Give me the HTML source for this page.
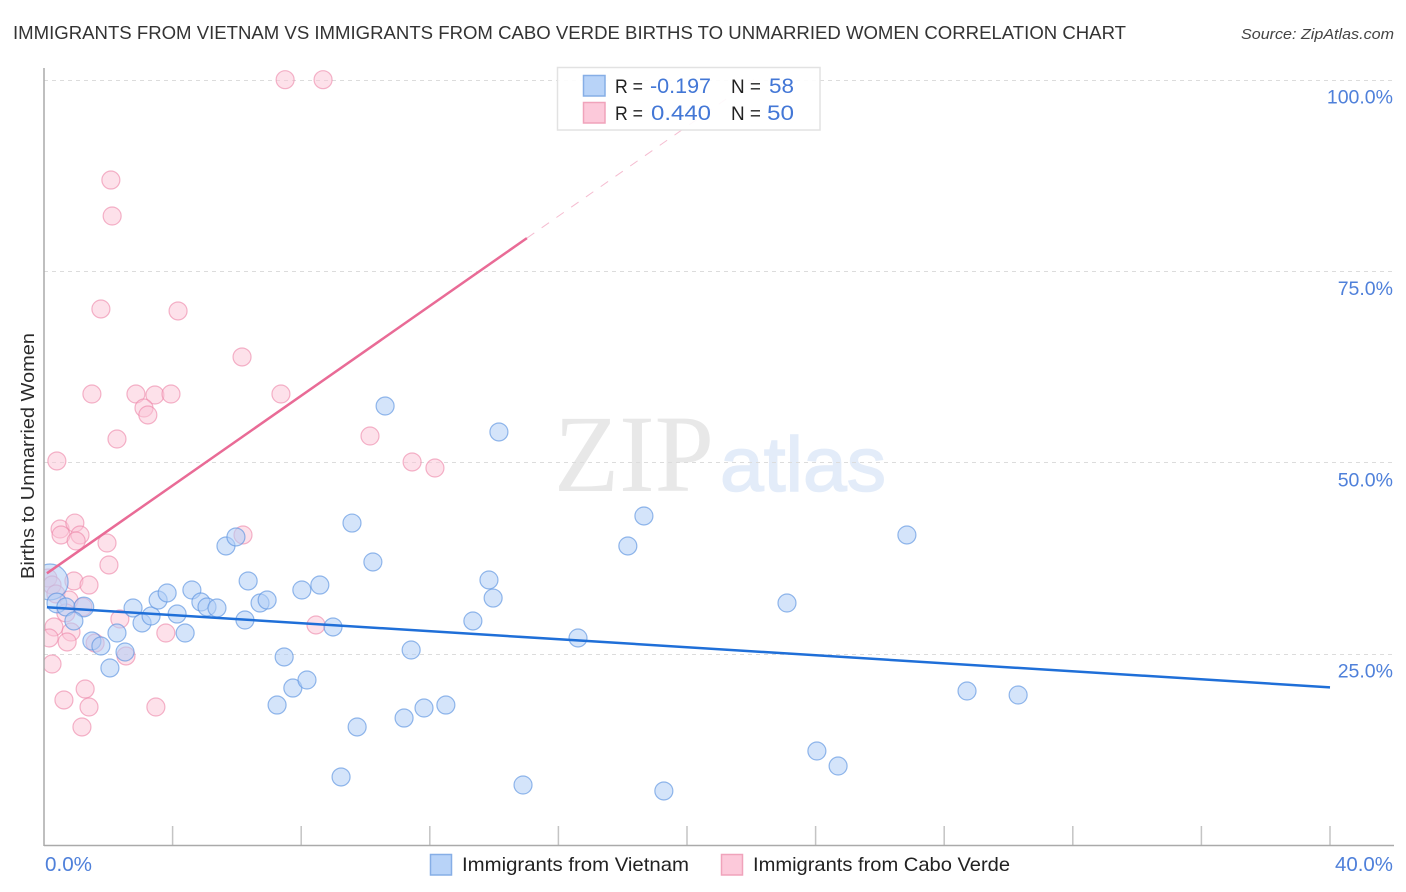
<!DOCTYPE html>
<html lang="en">
<head>
<meta charset="utf-8">
<title>Immigrants from Vietnam vs Immigrants from Cabo Verde Births to Unmarried Women Correlation Chart</title>
<style>
html,body{margin:0;padding:0;background:#fff;}
svg{display:block;font-family:"Liberation Sans",sans-serif;}
</style>
</head>
<body>
<svg id="chart" width="1406" height="892" viewBox="0 0 1406 892" xmlns="http://www.w3.org/2000/svg">
  <defs>
    <clipPath id="plot-clip"><rect x="44" y="60" width="1350" height="786"/></clipPath>
  </defs>
  <rect x="0" y="0" width="1406" height="892" fill="#ffffff"/>
  <text x="13" y="39" font-size="18.5" fill="#333333" textLength="1113" lengthAdjust="spacingAndGlyphs">IMMIGRANTS FROM VIETNAM VS IMMIGRANTS FROM CABO VERDE BIRTHS TO UNMARRIED WOMEN CORRELATION CHART</text>
  <text x="1241" y="39" font-size="15" font-style="italic" fill="#444" textLength="153" lengthAdjust="spacingAndGlyphs">Source: ZipAtlas.com</text>
  <text x="554" y="491" font-family="'Liberation Serif',serif" font-size="110" fill="#e8e8e8" textLength="160" lengthAdjust="spacingAndGlyphs">ZIP</text>
  <text x="720" y="491" font-size="77" fill="#e3ecf9" stroke="#e3ecf9" stroke-width="1.5" textLength="166" lengthAdjust="spacingAndGlyphs">atlas</text>
  <g id="grid"></g>
  <g id="ticks"></g>
  <g clip-path="url(#plot-clip)">
    <g id="pink-points"></g>
    <g id="blue-points"></g>
    <g id="trends"></g>
  </g>
  <line x1="44" y1="68" x2="44" y2="846" stroke="#aaaaaa" stroke-width="1.5"/>
  <line x1="44" y1="845.5" x2="1394" y2="845.5" stroke="#aaaaaa" stroke-width="1.5"/>
  <g id="labels"></g>
  <text transform="translate(34,456) rotate(-90)" text-anchor="middle" font-size="18.5" fill="#2a2a2a" textLength="246" lengthAdjust="spacingAndGlyphs">Births to Unmarried Women</text>

  <g>
    <rect x="557.5" y="67.5" width="262.5" height="62.5" fill="#ffffff" fill-opacity="0.9" stroke="#e2e2e2" stroke-width="1.5"/>
    <rect x="583.5" y="75.5" width="21.5" height="20.5" fill="#b8d3f8" stroke="#86aee6" stroke-width="1.5"/>
    <rect x="583.5" y="102.5" width="21.5" height="20.5" fill="#fcc9da" stroke="#f0a3bb" stroke-width="1.5"/>
    <text x="615" y="93" font-size="19" fill="#222" textLength="28" lengthAdjust="spacingAndGlyphs">R =</text>
    <text x="650" y="93" font-size="21.5" fill="#4377d6" textLength="61" lengthAdjust="spacingAndGlyphs">-0.197</text>
    <text x="731" y="93" font-size="19" fill="#222" textLength="30" lengthAdjust="spacingAndGlyphs">N =</text>
    <text x="769" y="93" font-size="21.5" fill="#4377d6" textLength="25" lengthAdjust="spacingAndGlyphs">58</text>
    <text x="615" y="120" font-size="19" fill="#222" textLength="28" lengthAdjust="spacingAndGlyphs">R =</text>
    <text x="651" y="120" font-size="21.5" fill="#4377d6" textLength="60" lengthAdjust="spacingAndGlyphs">0.440</text>
    <text x="731" y="120" font-size="19" fill="#222" textLength="30" lengthAdjust="spacingAndGlyphs">N =</text>
    <text x="767" y="120" font-size="21.5" fill="#4377d6" textLength="27" lengthAdjust="spacingAndGlyphs">50</text>
  </g>

  <g>
    <rect x="430.5" y="854.5" width="21" height="20.5" fill="#b8d3f8" stroke="#86aee6" stroke-width="1.5"/>
    <text x="462" y="871" font-size="19.5" fill="#222" textLength="227" lengthAdjust="spacingAndGlyphs">Immigrants from Vietnam</text>
    <rect x="721.5" y="854.5" width="21" height="20.5" fill="#fcc9da" stroke="#f0a3bb" stroke-width="1.5"/>
    <text x="753" y="871" font-size="19.5" fill="#222" textLength="257" lengthAdjust="spacingAndGlyphs">Immigrants from Cabo Verde</text>
  </g>
</svg>
<script>
const vietnamX = [0.19,0.40,0.68,1.24,0.93,1.49,1.77,2.52,2.05,2.27,2.77,3.05,3.33,3.55,3.83,4.14,4.39,4.60,4.88,5.07,5.38,6.25,6.35,6.72,6.94,5.66,5.97,8.02,8.58,8.99,7.47,7.74,8.18,7.25,9.24,9.74,9.58,10.23,10.61,11.20,11.42,11.82,12.50,13.34,13.84,13.97,14.15,14.90,16.61,18.16,18.66,19.28,23.11,24.04,24.70,26.84,28.71,30.30];
const vietnamY = [34.37,31.62,31.10,31.10,29.27,26.66,26.00,25.22,23.13,27.70,30.97,29.01,29.92,32.01,32.93,30.18,27.70,33.32,31.75,31.10,30.97,29.40,34.50,31.62,32.01,39.07,40.25,33.32,33.97,28.49,24.57,20.51,21.56,18.29,8.89,15.42,42.07,36.98,57.36,16.59,25.48,17.90,18.29,29.27,34.63,32.27,53.97,7.84,27.05,39.07,42.99,7.06,31.62,12.28,10.32,40.51,20.12,19.60];
const vietnamWeight = [4,1.2,1,1.2,1,1,1,1,1,1,1,1,1,1,1,1,1,1,1,1,1,1,1,1,1,1,1,1,1,1,1,1,1,1,1,1,1,1,1,1,1,1,1,1,1,1,1,1,1,1,1,1,1,1,1,1,1,1];
const caboVerdeX = [7.50,8.68,2.08,2.12,1.77,4.17,6.16,1.49,2.86,3.45,3.95,7.37,3.11,3.23,2.27,10.14,11.45,12.16,0.40,0.50,0.96,0.53,1.12,1.00,1.96,2.02,0.93,1.40,6.19,0.12,0.25,0.37,0.78,1.21,0.68,2.36,0.31,0.84,0.16,0.72,3.79,1.59,2.55,0.25,1.28,0.62,1.40,3.48,1.18,8.46];
const caboVerdeY = [100,100,86.89,82.19,70.04,69.78,63.77,58.93,58.93,58.80,58.93,58.93,57.10,56.19,53.05,53.44,50.05,49.26,50.18,41.29,42.07,40.51,40.51,39.72,39.46,36.59,34.50,33.97,40.51,34.89,33.97,32.80,32.01,31.10,30.32,29.53,28.49,27.83,27.05,26.53,27.70,26.39,24.70,23.65,20.38,18.95,18.03,18.03,15.42,28.75];
const vietnamTrendX = [0.09,40];
const vietnamTrendY = [31.06,20.6];
const caboSolidX = [0.09,15.02];
const caboSolidY = [35.5,79.3];
const caboDashX = [15.02,22.08];
const caboDashY = [79.3,100];
const yTicks = [25,50,75,100];
const yTickLabels = ["25.0%","50.0%","75.0%","100.0%"];
const xTicks = [0,4,8,12,16,20,24,28,32,36,40];
const xEndLabels = ["0.0%","40.0%"];

const NS = "http://www.w3.org/2000/svg";
function sx(v){ return 44 + v * 32.15; }
function sy(v){ return 845 - v * 7.653; }
function make(tag, attrs, parentId){
  const el = document.createElementNS(NS, tag);
  for (const k in attrs) el.setAttribute(k, attrs[k]);
  document.getElementById(parentId).appendChild(el);
  return el;
}

yTicks.forEach(function(v, i){
  const line = make("line", {x1:44, x2:1394, y1:Math.round(sy(v))+0.5, y2:Math.round(sy(v))+0.5, stroke:"#dcdcdc", "stroke-width":1, "stroke-dasharray":"4 4"}, "grid");
  
  
  const t = make("text", {x:1393, y:sy(v)+24, "text-anchor":"end", "font-size":19.5, fill:"#4f80da"}, "labels");
  t.textContent = yTickLabels[i];
  
  
});

xTicks.forEach(function(v){
  if (v === 0) return;
  const tick = make("line", {x1:sx(v), x2:sx(v), y1:826, y2:845, stroke:"#c4c4c4", "stroke-width":1.5}, "ticks");
  
  
});

const x0Label = make("text", {x:45, y:871, "font-size":20, fill:"#4f80da", textLength:47, lengthAdjust:"spacingAndGlyphs"}, "labels");
x0Label.textContent = xEndLabels[0];


const x1Label = make("text", {x:1335, y:871, "font-size":20, fill:"#4f80da", textLength:58, lengthAdjust:"spacingAndGlyphs"}, "labels");
x1Label.textContent = xEndLabels[1];



caboVerdeX.forEach(function(v, i){
  const c = make("circle", {cx:sx(v), cy:sy(caboVerdeY[i]), r:9, fill:"#fbc4d6", "fill-opacity":0.5, stroke:"#ec84a6", "stroke-opacity":0.6, "stroke-width":1.2}, "pink-points");
  
  
});

vietnamX.forEach(function(v, i){
  const c = make("circle", {cx:sx(v), cy:sy(vietnamY[i]), r:9*Math.sqrt(vietnamWeight[i]), fill:"#b0cdf5", "fill-opacity":0.55, stroke:"#5c94e0", "stroke-opacity":0.65, "stroke-width":1.2}, "blue-points");
  
  
});

const dashTrend = make("line", {x1:sx(caboDashX[0]), y1:sy(caboDashY[0]), x2:sx(caboDashX[1]), y2:sy(caboDashY[1]), stroke:"#e96b96", "stroke-opacity":0.45, "stroke-width":1, "stroke-dasharray":"9 9"}, "trends");


const pinkTrend = make("line", {x1:sx(caboSolidX[0]), y1:sy(caboSolidY[0]), x2:sx(caboSolidX[1]), y2:sy(caboSolidY[1]), stroke:"#e96b96", "stroke-width":2.5}, "trends");


const blueTrend = make("line", {x1:sx(vietnamTrendX[0]), y1:sy(vietnamTrendY[0]), x2:sx(vietnamTrendX[1]), y2:sy(vietnamTrendY[1]), stroke:"#1f6fd8", "stroke-width":2.5}, "trends");


</script>
</body>
</html>
